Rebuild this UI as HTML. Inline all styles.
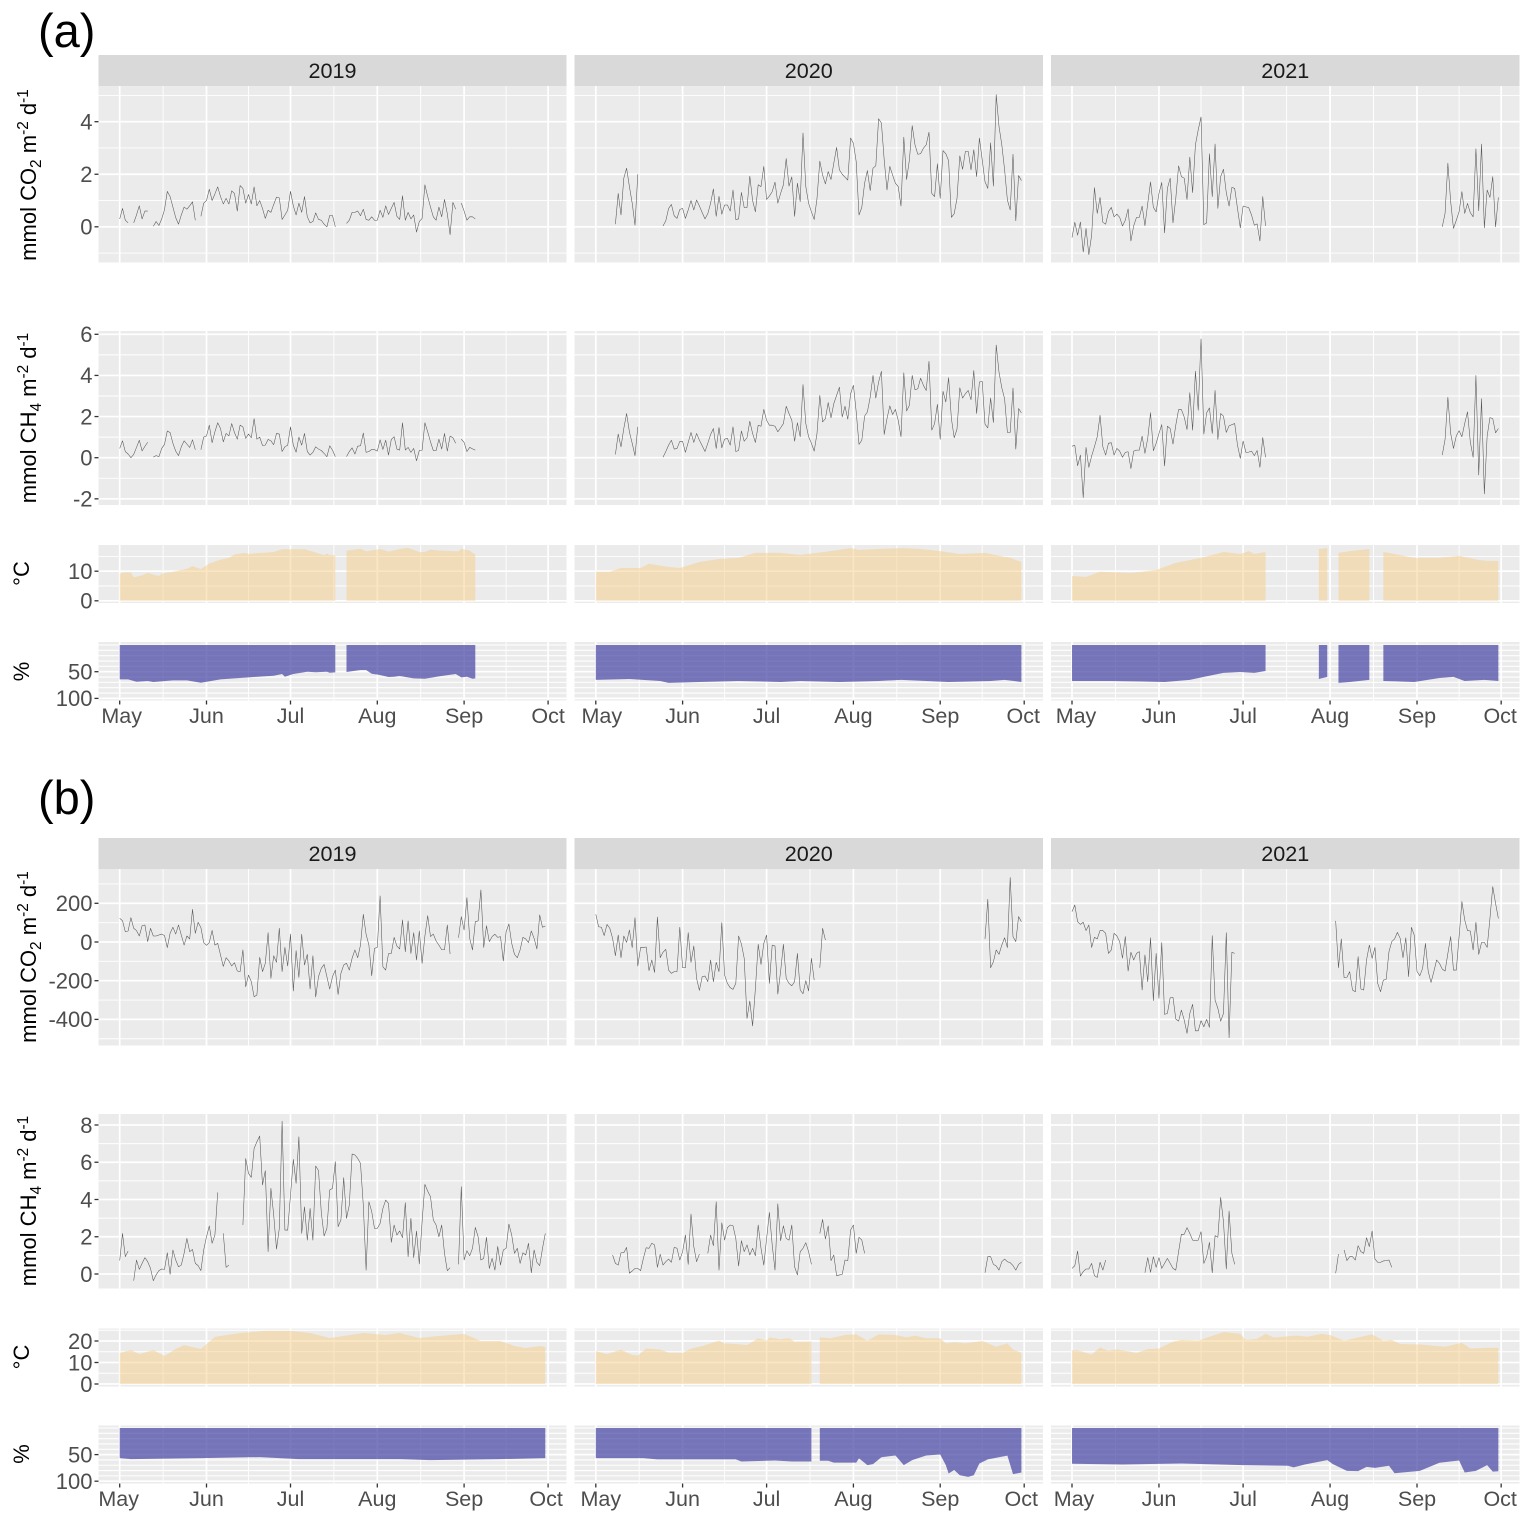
<!DOCTYPE html>
<html lang="en">
<head>
<meta charset="utf-8">
<title>Daily fluxes with temperature and humidity, 2019–2021</title>
<style>
html,body{margin:0;padding:0;background:#fff;}
svg{display:block;font-family:"Liberation Sans",sans-serif;}
</style>
</head>
<body>
<svg id="chart" xmlns="http://www.w3.org/2000/svg" width="1533" height="1524" viewBox="0 0 1533 1524"></svg>
<script>
/* ---------- categories and tick labels ---------- */
const years = ["2019","2020","2021"];
const monthLabels = ["May","Jun","Jul","Aug","Sep","Oct"];
const monthDays = [0,31,61,92,123,153];
const minorDays = [15.5,46,76.5,107.5,138];
const aCo2Ticks = [0,2,4];
const aCo2Minor = [-1,1,3,5];
const aCh4Ticks = [-2,0,2,4,6];
const aCh4Minor = [-1,1,3,5];
const tempATicks = [0,10];
const tempAMinor = [5,15];
const rhTicks = [50,100];
const rhMinor = [0,10,20,30,40,60,70,80,90];
const bCo2Ticks = [-400,-200,0,200];
const bCo2Minor = [-500,-300,-100,100,300];
const bCh4Ticks = [0,2,4,6,8];
const bCh4Minor = [1,3,5,7];
const tempBTicks = [0,10,20];
const tempBMinor = [5,15,25];

/* ---------- panel (a) CO2 flux, one value per day from 1 May ---------- */
const aCo2_2019 = [.3,.7,.25,.15,null,.15,.45,.8,.3,.6,.6,null,.02,.2,.05,.3,.65,1.35,1.15,.75,.35,.1,.45,.75,.67,.8,.95,.25,null,.4,.9,1,1.43,1,1.25,1.52,1.15,.87,1.08,.87,1.37,1.27,.6,1.57,1.46,.9,1.23,.87,1.52,.8,1,.7,.32,.63,.55,.85,1.13,1.1,.28,.45,.63,1.35,.8,.45,.9,.55,1.15,.38,.15,.2,.53,.28,.25,.1,0,.43,.43,0,null,null,null,.13,.25,.55,.55,.6,.42,.67,.28,.25,.38,.25,.25,.63,.36,.8,.47,.7,.93,.4,.28,1.18,.25,.55,.3,.45,-.2,.2,.32,1.6,1.15,.75,.38,.25,.75,.38,1.04,.5,-.3,.93,.67,null,.9,.6,.25,.38,.38,.3];
const aCo2_2020 = [null,null,null,null,null,null,null,.1,1.27,.45,1.85,2.23,1.53,.9,.06,2,null,null,null,null,null,null,null,null,.03,.23,.7,.85,.42,.32,.66,.7,.32,.64,1,.64,1.02,.79,.54,.3,.5,.9,1.44,.4,1.16,.48,.83,.83,.6,1.4,.28,.3,1.31,.73,.73,1.93,1,.57,1.6,1.53,2.3,1.04,1.17,1.34,1.7,.9,1.27,1.6,2.6,1.55,1.9,.4,1.66,.96,3.57,1.53,.9,.57,.28,1.08,2.5,1.97,1.63,2.1,1.8,2.42,3.02,2.17,2,1.89,1.78,3.38,3.18,2.48,.45,.74,1.66,2.14,1.38,2.23,2.32,4.11,3.95,2.55,1.4,2.3,1.97,1.66,1.53,.79,3.41,1.8,2.55,3.85,3.12,2.76,2.78,2.99,3.12,3.6,1.27,1.15,2.4,1.08,2.9,2.78,2.52,.36,.5,1.08,2.7,2.19,2.87,2.87,2.17,2.93,1.91,3.38,2.55,1.72,1.46,3.2,1.55,5.03,3.82,3.12,2.17,1.02,.64,2.76,.23,1.95,1.76];
const aCo2_2021 = [-.41,.17,-.32,.18,-.96,-.06,-1.06,-.32,1.49,.51,1.12,.17,.1,.57,.74,.38,.48,.36,.03,.25,.68,-.54,.04,.36,.36,.79,.04,.89,1.71,.74,.57,1.27,1.69,-.23,1.46,1.85,.15,1.08,2.32,1.91,1.85,1.04,2.65,1.3,3.12,3.69,4.18,.08,.15,2.78,1.15,3.15,.7,1.91,2.19,1.3,.79,1.5,1.46,.7,-.04,.79,.76,.73,.45,.06,.11,-.54,1.15,.03,
null,null,null,null,null,null,null,null,null,null,null,null,null,null,null,null,null,null,null,null,null,null,null,null,null,null,null,null,null,null,null,null,null,null,null,null,null,null,null,null,null,null,null,null,null,null,null,null,null,null,null,null,null,null,null,null,null,null,null,null,null,null,
0,.51,2.42,.96,-.06,.25,.57,1.34,.51,.89,.54,.38,2.97,.61,3.15,-.04,1.4,1.12,1.91,0,1.12];

/* ---------- panel (a) CH4 flux ---------- */
const aCh4_2019 = [.45,.82,.3,.18,0,.16,.5,.85,.33,.55,.75,null,.03,.1,.05,.45,.65,1.3,1.22,.7,.32,.1,.53,.82,.66,.5,.87,.39,null,.39,1,1.06,1.58,.73,1.26,1.7,1.42,.77,1.18,1.06,1.66,1.22,.9,1.58,1.5,.94,1.15,.97,1.9,.9,1,.6,.61,.89,.82,.63,1.18,1.15,.3,.53,.61,1.5,.61,.27,1,.61,1.18,.3,.13,.26,.53,.42,.35,.21,.05,.58,.37,.05,null,null,null,.05,.3,.48,.18,.56,.58,1.2,.26,.3,.4,.39,.32,.87,.4,.85,.13,.89,1.02,.42,.37,1.7,.37,.5,.26,.45,-.15,.35,.37,1.7,1.26,.77,.35,.35,.9,.42,1.18,.32,1.05,.97,.7,null,.9,.74,.3,.5,.43,.37];
const aCh4_2020 = [null,null,null,null,null,null,null,.16,1.15,.53,1.42,2.15,1.26,.7,.1,1.5,null,null,null,null,null,null,null,null,.02,.3,.61,.85,.42,.45,.79,.79,.26,.74,1.23,.74,1.18,.85,.58,.3,.7,1.13,1.42,.45,1.47,.48,.9,.94,.61,1.5,.3,.35,1.3,.8,.97,1.77,1.18,.74,1.58,1.53,2.35,1.82,1.58,1.58,1.53,1.26,1.45,1.66,2.5,2.15,1.82,.8,1.7,1.02,3.56,1.66,1.02,.7,.32,1.18,3.03,1.74,1.9,2.68,1.94,2.63,3.03,3.43,1.98,2.5,1.87,3.11,3.52,2.23,.65,.85,2.02,2.23,2.95,4,2.9,3.68,4.2,1.13,1.9,2.52,2.1,2.35,1.82,1.02,4.13,2.27,2.55,4,3.3,3.35,3.87,3.52,3.27,4.69,1.34,1.66,2.6,.89,3.23,2.71,3.89,1.9,.97,1.39,3.4,2.9,3.11,3.27,2.82,4.24,2.15,3.68,3.71,1.63,1.45,2.9,1.71,5.48,4.16,3.4,2.87,1.23,1.23,3.39,.42,2.39,2.18];
const aCh4_2021 = [.56,.6,-.39,.13,-1.94,.5,-.47,.08,.53,1.02,2.06,.53,.13,.7,.73,.13,.45,.32,.02,.26,.29,-.53,.32,.37,.37,1.05,.21,.94,2.19,.34,.7,1.18,1.61,-.4,1.53,1.42,.66,1.58,2.34,2.34,1.98,1.37,3.16,1.34,4.21,2.31,5.77,1.15,2.18,2.42,1.18,3.27,.89,2.15,2.02,1.23,1.55,1.61,1.66,.61,-.03,.81,.26,.27,.32,.1,.35,-.47,.98,.02,
null,null,null,null,null,null,null,null,null,null,null,null,null,null,null,null,null,null,null,null,null,null,null,null,null,null,null,null,null,null,null,null,null,null,null,null,null,null,null,null,null,null,null,null,null,null,null,null,null,null,null,null,null,null,null,null,null,null,null,null,null,null,
.13,.89,2.94,1.18,.45,1.06,1.31,1.02,1.66,2.23,.77,.02,4,-.84,2.87,-1.76,1.05,1.95,1.9,1.21,1.42];

/* ---------- panel (b) CO2 flux ---------- */
const bCo2_2019 = [122,110,53,57,126,71,59,31,84,88,2,71,31,31,36,41,33,-29,45,76,41,88,36,-16,31,16,169,45,102,74,-3,-17,-3,60,-16,-7,-67,-126,-81,-98,-124,-107,-150,-153,-41,-231,-171,-205,-283,-274,-79,-153,-110,48,-188,-71,-105,71,-153,-28,-124,41,-253,-45,-183,40,-119,-64,-243,-71,-284,-179,-136,-116,-179,-243,-179,-145,-271,-162,-119,-110,-145,-84,-41,-81,-16,143,40,-16,-174,-33,-28,238,-128,-145,-60,-59,24,-21,-36,114,-50,109,-59,48,-93,57,-110,31,136,28,41,5,-16,-40,-40,88,-62,null,null,22,131,62,229,19,-41,105,109,269,-28,84,2,28,40,24,28,-98,53,93,-7,-64,-81,-41,24,16,-3,57,19,-36,140,76,83];
const bCo2_2020 = [143,79,76,33,91,71,19,-71,36,-81,31,-2,62,-29,126,-124,-28,-28,-26,-148,-93,-157,129,-81,-53,-38,-145,-162,-153,-153,76,-133,-133,48,-105,-21,-188,-250,-179,-176,-205,-93,-205,-105,-153,100,-171,-214,-236,-245,-214,31,-10,-84,-395,-305,-434,-240,-12,-116,-7,36,-214,-16,-21,-269,-153,-12,-188,-214,-226,-205,-59,-248,-267,-200,-253,-84,-197,null,-133,71,10,
null,null,null,null,null,null,null,null,null,null,null,null,null,null,null,null,null,null,null,null,null,null,null,null,null,null,null,null,null,null,null,null,null,null,null,null,null,null,null,null,null,null,null,null,null,null,null,null,null,null,null,null,null,null,null,null,
16,221,-133,-102,-41,-64,-16,22,-29,333,28,2,131,105];
const bCo2_2021 = [157,191,105,91,102,59,88,-28,24,16,59,59,45,-59,-41,45,31,2,-84,28,-150,-53,-93,-59,-50,-248,-67,-205,22,-303,-59,-291,-3,-374,-369,-288,-286,-398,-409,-352,-403,-472,-369,-322,-459,-459,-407,-438,-400,-441,33,-300,-343,-409,-369,48,-495,-53,-59,
null,null,null,null,null,null,null,null,null,null,null,null,null,null,null,null,null,null,null,null,null,null,null,null,null,null,null,null,null,null,null,null,null,null,null,
109,-133,16,-184,-183,-153,-248,-257,-76,-243,-248,-93,-16,-84,-28,-214,-257,-197,-193,-50,2,16,50,19,-81,22,-179,76,36,-153,-174,-136,-7,-153,-209,-153,-93,-110,-140,-150,-59,28,-145,-145,28,209,114,59,57,-41,102,-64,-2,-2,-28,122,286,200,122];

/* ---------- panel (b) CH4 flux ---------- */
const bCh4_2019 = [.72,2.18,.93,1.23,null,-.36,.75,.25,.57,.88,.66,.3,-.36,-.05,.18,.27,.25,1.14,-.02,1.29,.75,.39,.48,1.11,1.91,1.2,1.32,.57,.45,.18,1.29,2,2.58,1.65,2.09,4.38,null,2.18,.36,.48,null,null,null,null,2.63,6.2,5.4,5.19,6.74,7.1,7.41,4.78,5.55,1.2,4.6,3.17,1.34,2.45,8.21,2.36,2.36,4.24,6.15,4.87,7.37,2.18,3.61,1.82,3.52,1.82,5.8,5.55,3.31,2.04,2.45,4.51,4.6,6.03,2.54,2.9,5.17,2.99,3.7,6.44,6.39,6.21,5.94,3.7,.21,3.88,3.35,2.45,2.45,2.72,3.52,3.97,3.79,1.7,2.63,2.09,2.31,1.95,3.83,.93,2.99,.88,2.31,.54,2.81,4.81,4.45,4.15,2.9,2.63,2,2.63,1.11,.18,.34,null,null,.52,4.69,.75,1.25,.98,1.38,2.5,2,.75,.84,1.97,.3,.84,.21,1.48,.48,1.29,1.38,2.68,2.09,1.11,1.38,.57,1.14,1.02,1.65,.07,1.29,.63,.45,1.38,2.18];
const bCh4_2020 = [null,null,null,null,null,null,1.02,.57,.48,1.14,1.14,1.43,.04,.16,.3,.3,.18,.84,1.41,1.38,1.65,1.56,.36,1.06,.48,.66,.8,.63,1.43,1.38,.75,1.2,2.09,.52,3.22,1.47,.66,1.07,null,null,1.11,2.09,1.52,3.88,.21,2.75,1.82,2.49,2.63,2.59,1.91,.43,1.79,1.2,1.56,1.02,1.38,.98,2.63,1.38,.48,1.9,3.31,1.56,.21,3.77,1.79,2.59,1.91,1.82,2.63,.39,-.05,1.2,1.38,1.68,1.2,.52,null,null,2.18,2.93,1.88,2.58,.72,1.02,-.09,-.05,-.02,.75,.72,2.36,2.63,1.11,1.97,1.82,1.11,
null,null,null,null,null,null,null,null,null,null,null,null,null,null,null,null,null,null,null,null,null,null,null,null,null,null,null,null,null,null,null,null,null,null,null,null,null,null,null,null,null,null,
.07,.93,.93,.52,.43,.21,.66,.8,.66,.61,.45,.21,.52,.63];
const bCh4_2021 = [.3,.45,1.23,-.11,.13,.27,.27,.57,-.09,-.18,.63,.21,.75,null,null,null,null,null,null,null,null,null,null,null,null,null,.07,.88,.09,.93,.36,.88,.3,.57,.84,.57,.3,.21,1.2,2.13,2.13,2.49,2.18,1.82,1.79,1.82,2.27,.57,.93,1.7,.07,2.06,1.97,4.11,2.81,.27,3.38,1.11,.52,
null,null,null,null,null,null,null,null,null,null,null,null,null,null,null,null,null,null,null,null,null,null,null,null,null,null,null,null,null,null,null,null,null,null,null,
.04,1.07,null,1.29,.72,.93,.93,.75,1.52,1.2,1.11,1.95,1.47,2.31,.8,.63,.63,.7,.72,.75,.36];

/* ---------- temperature (°C): sample days and values, null = data gap ---------- */
const aTemp2019Days = [0,2,4,5,8,10,14,15,19,24,26,29,32,36,39,41,45,46,49,53,55,58,62,66,70,71,73,74,75,77,null,81,86,88,93,96,100,103,107,109,111,114,121,122,125,127];
const aTemp2019 = [9.2,9.6,9.5,7.9,8.6,9.4,8.4,9.2,9.8,10.8,11.7,10.7,12.6,13.9,14.5,15.7,16.2,15.8,16.1,16.3,16.5,17.4,17.4,17.4,16.3,16,15.4,16,15.4,15.4,null,16.9,17.6,16.7,17.5,16.6,17.5,17.9,16.5,16.5,17.3,17,16.7,17.6,16.9,15.6];
const aTemp2020Days = [0,5,9,16,19,26,30,37,44,51,57,66,73,84,91,94,101,109,116,123,130,139,144,148,152];
const aTemp2020 = [9.8,9.8,11.1,11.1,12.5,11.4,11.1,13.1,14.1,14.5,16.2,16.2,15.5,16.8,17.8,17.2,17.5,17.8,17.5,16.8,15.8,16.2,15.2,14.5,13.1];
const aTemp2021Days = [0,5,10,21,30,37,46,54,60,63,65,69,null,88,91,null,95,99,106,null,111,115,122,131,138,145,148,152];
const aTemp2021 = [8.4,8.1,9.8,9.4,10.4,12.8,14.5,16.5,15.8,16.8,15.8,16.5,null,17.5,17.8,null,16.2,16.8,17.5,null,16.5,15.8,14.5,14.5,15.2,13.8,13.5,13.5];
const bTemp2019Days = [0,4,7,12,16,20,23,29,34,43,52,61,68,75,80,87,95,100,107,114,123,129,136,141,145,150,152];
const bTemp2019 = [14.4,15.8,13.9,15.8,13,16.3,18.1,16.3,21.9,23.7,24.7,24.7,23.7,21.4,22.3,23.7,22.8,23.7,21.4,22.3,23.3,20,20,17.7,16.7,17.7,17.2];
const bTemp2020Days = [0,4,9,13,15,18,23,26,31,34,38,44,46,50,54,58,61,62,66,69,71,77,null,80,84,89,93,97,101,107,111,114,118,123,125,128,132,138,143,147,149,152];
const bTemp2020 = [15.3,13.9,16,13.5,13.2,16.5,16,14.6,14.5,16.5,17.6,20.2,18.9,18.6,18.1,21.3,20.2,21.6,20.8,21.3,19.7,19.8,null,21.7,21.3,22.8,23.1,20.2,23.1,22.8,21.7,22.5,21.3,21.3,18.9,19.4,18.9,20,17.3,18.9,16,14.6];
const bTemp2021Days = [0,2,7,10,13,16,23,27,31,36,39,45,54,60,62,66,69,72,80,84,89,92,97,107,111,114,117,124,133,139,142,147,152];
const bTemp2021 = [15.7,15.7,13.7,17,15.4,16.1,14.5,16.2,16.5,19.7,20.5,20.2,24.1,23.3,20.5,21,23.3,21.6,22.5,22,23.3,22.8,20.2,23.1,20.2,20.5,18.6,18.4,17.3,19.2,16.5,16.8,16.8];

/* ---------- relative humidity (%): sample days and values, null = data gap ---------- */
const aRh2019Days = [0,3,6,10,12,19,24,29,36,46,55,58,59,62,67,70,74,75,77,null,81,86,88,90,93,96,98,100,105,109,114,120,122,124,126,127];
const aRh2019 = [64.4,64.4,68.8,67.5,69.4,66.3,66.3,70.6,64.4,60.6,57.5,54.4,59.4,54.4,50,51,50,51.9,51.3,null,50.6,46.9,46.9,53.8,56.3,60,59.4,58.1,62.5,63.1,58.8,54.4,60.6,59.4,63.1,62.5];
const aRh2020Days = [0,12,23,26,37,51,66,73,87,101,109,126,141,146,152];
const aRh2020 = [65.4,63.6,67.3,71,69.2,67.3,69.2,67.3,69.2,67.3,65.4,69.2,67.3,65.4,69.2];
const aRh2021Days = [0,14,33,42,47,54,60,65,69,null,88,91,null,95,99,106,null,111,122,131,136,140,147,152];
const aRh2021 = [67.3,67.3,69.2,65.4,59.8,52.3,50.5,52.3,48.6,null,63.6,59.8,null,71,69.2,65.4,null,67.3,69.2,61.7,59.8,67.3,65.4,67.3];
const bRh2019Days = [0,4,29,50,64,100,111,136,152];
const bRh2019 = [56.6,58.5,56.6,54.7,58.5,58.5,60.4,58.5,56.6];
const bRh2020Days = [0,17,22,50,52,64,70,77,null,80,83,85,93,94,97,99,102,107,110,113,118,123,125,126,128,130,133,135,137,140,147,149,152];
const bRh2020 = [56.6,56.6,59,59,63,61,63,63,null,61.6,61.6,65,65,57,69.8,68,55,51.6,69.8,60.4,51.6,49.7,69.8,85.5,79,88.7,91.8,88.7,66.7,59,52,86.8,83.6];
const bRh2021Days = [0,18,39,61,77,79,83,91,93,98,102,105,108,113,115,124,131,138,140,144,148,150,152];
const bRh2021 = [67.3,68.5,66.7,69.8,71,74,68.5,60.4,68,80.5,81,73,75,71,85,80.5,65.4,61,83.6,80.5,69.8,82,81.4];

/* ---------- layout ---------- */
const NS = "http://www.w3.org/2000/svg";
const svg = document.getElementById("chart");
const columns = [
  {left:98.5, right:566.5, x0:119.7, k:2.8},
  {left:574.5, right:1043, x0:595.8, k:2.8},
  {left:1051, right:1519.5, x0:1072, k:2.805}
];
const figures = [
  {
    id:"a", label:"(a)", labelY:47, strip:[55,86], stripY:78, monthY:723,
    mayShift:[2,6,4], octShift:[0,-1,-1],
    rows:[
      {kind:"line", name:"co2", gas:"CO", sub:"2", top:86, bottom:262.5, anchor:[0,226.8,4,121.7], ticks:aCo2Ticks, minor:aCo2Minor, titleY:175, series:[aCo2_2019,aCo2_2020,aCo2_2021]},
      {kind:"line", name:"ch4", gas:"CH", sub:"4", top:331, bottom:505, anchor:[0,457.7,6,334.3], ticks:aCh4Ticks, minor:aCh4Minor, titleY:418, series:[aCh4_2019,aCh4_2020,aCh4_2021]},
      {kind:"temp", name:"temperature", top:545, bottom:603, anchor:[0,600.8,10,571.2], ticks:tempATicks, minor:tempAMinor, titleY:573.5, series:[aTemp2019,aTemp2020,aTemp2021], days:[aTemp2019Days,aTemp2020Days,aTemp2021Days]},
      {kind:"rh", name:"humidity", top:642, bottom:700.5, anchor:[0,645,100,698.4], ticks:rhTicks, minor:rhMinor, titleY:671.5, series:[aRh2019,aRh2020,aRh2021], days:[aRh2019Days,aRh2020Days,aRh2021Days]}
    ]
  },
  {
    id:"b", label:"(b)", labelY:814, strip:[838,869], stripY:861, monthY:1506,
    mayShift:[-1,5,2], octShift:[-2,-3,-1],
    rows:[
      {kind:"line", name:"co2", gas:"CO", sub:"2", top:869, bottom:1045.5, anchor:[0,942,200,903.3], ticks:bCo2Ticks, minor:bCo2Minor, titleY:957, series:[bCo2_2019,bCo2_2020,bCo2_2021]},
      {kind:"line", name:"ch4", gas:"CH", sub:"4", top:1114, bottom:1288.5, anchor:[0,1274,8,1125], ticks:bCh4Ticks, minor:bCh4Minor, titleY:1201, series:[bCh4_2019,bCh4_2020,bCh4_2021]},
      {kind:"temp", name:"temperature", top:1328.5, bottom:1386.5, anchor:[0,1384,20,1341], ticks:tempBTicks, minor:tempBMinor, titleY:1357, series:[bTemp2019,bTemp2020,bTemp2021], days:[bTemp2019Days,bTemp2020Days,bTemp2021Days]},
      {kind:"rh", name:"humidity", top:1425.5, bottom:1483.5, anchor:[0,1428,100,1481.2], ticks:rhTicks, minor:rhMinor, titleY:1454, series:[bRh2019,bRh2020,bRh2021], days:[bRh2019Days,bRh2020Days,bRh2021Days]}
    ]
  }
];

/* ---------- helpers ---------- */
function make(tag, attrs, parent){
  const el = document.createElementNS(NS, tag);
  for (const key in attrs) el.setAttribute(key, attrs[key]);
  parent.appendChild(el);
  return el;
}
function xScale(col){ return d => col.x0 + col.k * d; }
function yScale(a){ return v => a[1] + (v - a[0]) * (a[3] - a[1]) / (a[2] - a[0]); }

function linePath(values, x, y){
  let d = "", pen = false;
  values.forEach((v, i) => {
    if (v === null) { pen = false; return; }
    d += (pen ? "L" : "M") + x(i).toFixed(2) + " " + y(v).toFixed(2);
    pen = true;
  });
  return d;
}
function areaPath(days, values, x, y){
  let d = "", run = [];
  const base = y(0).toFixed(2);
  const flush = () => {
    if (run.length) {
      d += "M" + run[0][0] + " " + base + run.map(p => "L" + p[0] + " " + p[1]).join("") + "L" + run[run.length-1][0] + " " + base + "Z";
    }
    run = [];
  };
  values.forEach((v, i) => {
    if (v === null) { flush(); return; }
    run.push([x(days[i]).toFixed(2), y(v).toFixed(2)]);
  });
  flush();
  return d;
}

/* ---------- drawing ---------- */
figures.forEach(fig => {
  const group = make("g", {}, svg);
  
  

  const tag = make("text", {x:38, y:fig.labelY, "font-size":47, fill:"#000"}, group);
  tag.textContent = fig.label;
  
  

  columns.forEach((col, c) => {
    const strip = make("rect", {x:col.left, y:fig.strip[0], width:col.right-col.left, height:fig.strip[1]-fig.strip[0], fill:"#d9d9d9"}, group);
    
    
    const stripText = make("text", {x:(col.left+col.right)/2, y:fig.stripY, "text-anchor":"middle", "font-size":21.6, fill:"#1a1a1a"}, group);
    stripText.textContent = years[c];
    
    
  });

  fig.rows.forEach((row, r) => {
    const y = yScale(row.anchor);
    columns.forEach((col, c) => {
      const x = xScale(col);
      const panel = make("g", {}, group);
      
      
      const bg = make("rect", {x:col.left, y:row.top, width:col.right-col.left, height:row.bottom-row.top, fill:"#ebebeb"}, panel);
      
      

      row.minor.forEach(v => {
        const py = y(v);
        if (py < row.top || py > row.bottom) return;
        const g = make("line", {x1:col.left, x2:col.right, y1:py, y2:py, stroke:"#fff", "stroke-width":row.kind==="rh"?1.1:0.9}, panel);
        
        
      });
      minorDays.forEach(d => {
        const g = make("line", {x1:x(d), x2:x(d), y1:row.top, y2:row.bottom, stroke:"#fff", "stroke-width":0.9}, panel);
        
        
      });
      row.ticks.forEach(v => {
        const g = make("line", {x1:col.left, x2:col.right, y1:y(v), y2:y(v), stroke:"#fff", "stroke-width":1.7}, panel);
        
        
      });
      monthDays.forEach(d => {
        const g = make("line", {x1:x(d), x2:x(d), y1:row.top, y2:row.bottom, stroke:"#fff", "stroke-width":1.7}, panel);
        
        
      });

      if (row.kind === "line") {
        const p = make("path", {d:linePath(row.series[c], x, y), fill:"none", stroke:"#555", "stroke-width":0.55, "stroke-linejoin":"round"}, panel);
        
        
      } else if (row.kind === "temp") {
        const p = make("path", {d:areaPath(row.days[c], row.series[c], x, y), fill:"#f5cd87", "fill-opacity":0.5}, panel);
        
        
      } else {
        const p = make("path", {d:areaPath(row.days[c], row.series[c], x, y), fill:"#4542a2", "fill-opacity":0.7}, panel);
        
        
      }
    });

    /* y axis */
    row.ticks.forEach(v => {
      const t = make("line", {x1:94.5, x2:98.5, y1:y(v), y2:y(v), stroke:"#333", "stroke-width":1.3}, group);
      
      
      const lab = make("text", {x:92.5, y:y(v)+7.8, "text-anchor":"end", "font-size":22, fill:"#4d4d4d"}, group);
      lab.textContent = String(v);
      
      
    });

    /* y title */
    const tx = row.kind === "line" ? 36 : 29;
    const title = make("text", {transform:"translate(" + tx + "," + row.titleY + ") rotate(-90)", "text-anchor":"middle", "font-size":22, fill:"#000"}, group);
    if (row.kind === "line") {
      title.innerHTML = 'mmol ' + row.gas + '<tspan font-size="15.4" dy="5">' + row.sub + '</tspan><tspan dy="-5"> m</tspan><tspan font-size="15.4" dy="-8">-2</tspan><tspan dy="8"> d</tspan><tspan font-size="15.4" dy="-8">-1</tspan>';
    } else {
      title.textContent = row.kind === "temp" ? "°C" : "%";
    }
    
    
  });

  /* x axis under the last row */
  const last = fig.rows[fig.rows.length-1];
  columns.forEach((col, c) => {
    const x = xScale(col);
    monthDays.forEach((d, i) => {
      const t = make("line", {x1:x(d), x2:x(d), y1:last.bottom, y2:last.bottom+4, stroke:"#333", "stroke-width":1.3}, group);
      
      
      let shift = 0;
      if (i === 0) shift = fig.mayShift[c];
      if (i === monthDays.length-1) shift = fig.octShift[c];
      const lab = make("text", {x:x(d)+shift, y:fig.monthY, "text-anchor":"middle", "font-size":21.5, fill:"#4d4d4d"}, group);
      lab.textContent = monthLabels[i];
      
      
    });
  });
});
</script>
</body>
</html>
